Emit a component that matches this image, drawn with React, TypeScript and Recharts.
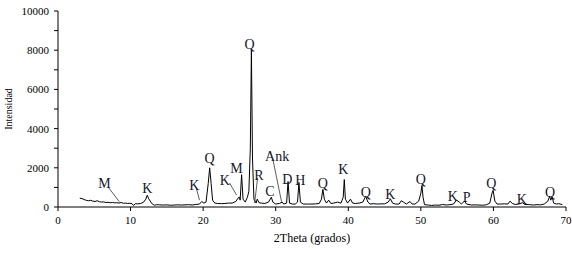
import React from "react";
import {
  LineChart,
  Line,
  XAxis,
  YAxis,
  ReferenceDot,
  ReferenceLine,
  Label,
} from "recharts";

const twoTheta = [
  3.0, 3.3, 3.6, 3.9, 4.2, 4.5, 4.8, 5.1, 5.4, 5.7, 6.0, 6.3, 6.6, 6.9, 7.2, 7.5, 7.8, 8.1, 8.4, 8.7,
  9.0, 9.3, 9.6, 9.9, 10.2, 10.4, 10.7, 11.0, 11.4, 11.8, 12.1, 12.3, 12.5, 12.8, 13.0, 13.3, 13.6,
  14.0, 14.5, 15.0, 15.5, 16.0, 16.5, 17.0, 17.5, 18.0, 18.5, 19.0, 19.5, 19.8, 20.1, 20.4, 20.7,
  20.9, 21.1, 21.3, 21.6, 22.0, 22.5, 23.0, 23.5, 24.0, 24.5, 24.8, 25.0, 25.1, 25.3, 25.5, 25.8,
  26.1, 26.3, 26.5, 26.65, 26.8, 27.0, 27.3, 27.45, 27.7, 28.0, 28.5, 29.0, 29.4, 29.6, 30.0, 30.5,
  30.9, 31.1, 31.5, 31.7, 31.9, 32.3, 32.7, 33.0, 33.2, 33.4, 33.8, 34.5, 35.0, 35.5, 36.0, 36.3,
  36.5, 36.7, 37.0, 37.3, 37.6, 38.0, 38.5, 39.0, 39.3, 39.45, 39.6, 39.9, 40.3, 40.6, 41.0, 41.5,
  42.0, 42.4, 42.7, 43.0, 43.5, 44.0, 44.5, 45.0, 45.5, 45.8, 46.1, 46.5, 47.0, 47.3, 47.6, 48.0,
  48.5, 48.8, 49.2, 49.7, 50.0, 50.15, 50.3, 50.5, 51.0, 51.5, 52.0, 52.5, 53.0, 53.5, 54.0, 54.5,
  54.9, 55.3, 55.6, 56.0, 56.3, 57.0, 57.5, 58.0, 58.5, 59.0, 59.5, 59.8, 59.95, 60.2, 60.5, 61.0,
  61.5, 62.0, 62.3, 62.6, 63.0, 63.5, 64.0, 64.3, 65.0, 65.5, 66.0, 66.5, 67.0, 67.5, 67.75, 67.9,
  68.1, 68.3, 68.7, 69.0, 69.5,
];
const intensity = [
  450, 430, 380, 340, 320, 340, 300, 280, 320, 270, 250, 260, 230, 240, 220, 230, 210, 220, 200, 230,
  190, 200, 180, 190, 170, 80, 170, 160, 180, 250, 400, 600, 420, 250, 150, 90, 120,
  110, 100, 110, 90, 100, 110, 100, 110, 120, 100, 130, 150, 280, 200, 250, 1200,
  2000, 1200, 350, 200, 180, 170, 180, 200, 200, 280, 450, 500, 350, 1650, 400, 250,
  500, 800, 3000, 8000, 2500, 400, 200, 400, 220, 200, 180, 250, 500, 250, 150, 180,
  250, 150, 200, 1300, 200, 150, 150, 250, 1250, 250, 150, 150, 150, 160, 180, 400,
  900, 400, 200, 350, 180, 200, 250, 200, 500, 1400, 400, 200, 400, 200, 180, 200,
  250, 550, 250, 150, 170, 150, 160, 160, 250, 420, 200, 150, 150, 320, 250, 150,
  280, 150, 150, 300, 700, 1100, 500, 120, 100, 80, 100, 90, 130, 100, 120, 150,
  350, 250, 150, 300, 150, 100, 110, 100, 90, 110, 200, 700, 850, 300, 150, 150,
  160, 150, 300, 180, 130, 150, 220, 130, 120, 100, 120, 110, 150, 300, 550, 350,
  500, 200, 150, 170, 120,
];

const xTicks = [0, 10, 20, 30, 40, 50, 60, 70];
const yTicks = [0, 1000, 2000, 3000, 4000, 5000, 6000, 7000, 8000, 9000, 10000];

// phase labels: text, label position, optional leader line end
const phaseText = ["M", "K", "K", "Q", "K", "M", "Q", "R", "C", "Ank", "D", "H", "Q", "K", "Q", "K", "Q", "K", "P", "Q", "K", "Q"];
const phaseX = [6.4, 12.3, 18.8, 20.9, 23.0, 24.6, 26.4, 27.7, 29.2, 30.2, 31.6, 33.4, 36.5, 39.3, 42.4, 45.8, 50.0, 54.4, 56.3, 59.7, 63.9, 67.8];
const phaseY = [1200, 950, 1080, 2500, 1330, 1950, 8300, 1630, 780, 2570, 1420, 1330, 1180, 1890, 760, 620, 1420, 520, 460, 1220, 360, 760];
const leaderFromX = [6.9, null, 19.05, null, 23.65, null, null, 27.5, null, 29.6, null, null, null, null, null, null, null, null, null, null, null, null];
const leaderFromY = [1020, null, 970, null, 1220, null, null, 1480, null, 2450, null, null, null, null, null, null, null, null, null, null, null, null];
const leaderToX = [8.45, null, 19.5, null, 24.6, null, null, 27.1, null, 30.8, null, null, null, null, null, null, null, null, null, null, null, null];
const leaderToY = [270, null, 350, null, 610, null, null, 200, null, 270, null, null, null, null, null, null, null, null, null, null, null, null];

const data = twoTheta.map((t, i) => ({ t, v: intensity[i] }));

const serif = "'Liberation Serif', 'Times New Roman', serif";

const PhaseText = (text: string) => (props: any) => (
  <text
    x={props.cx}
    y={props.cy}
    textAnchor="middle"
    dominantBaseline="central"
    fontFamily={serif}
    fontSize={14}
    fill="#14142e"
  >
    {text}
  </text>
);

export default function App() {
  return (
    <div style={{ position: "absolute", left: 0, top: 0, background: "#fff" }}>
      <LineChart
        width={572}
        height={253}
        data={data}
        margin={{ top: 11, right: 6, bottom: 0, left: 0 }}
      >
        <XAxis
          dataKey="t"
          type="number"
          domain={[0, 70]}
          ticks={xTicks}
          height={46}
          tickSize={4}
          tickMargin={5}
          stroke="#000"
          tick={{ fill: "#000", fontSize: 11, fontFamily: serif }}
          allowDataOverflow
        >
          <Label
            content={(p: any) => (
              <text
                x={p.viewBox.x + p.viewBox.width / 2}
                y={p.viewBox.y + 35}
                textAnchor="middle"
                fontFamily={serif}
                fontSize={12}
                fill="#000"
              >
                2Theta (grados)
              </text>
            )}
          />
        </XAxis>
        <YAxis
          type="number"
          domain={[0, 10000]}
          ticks={yTicks}
          width={58}
          tickSize={4}
          tickMargin={5}
          stroke="#000"
          interval={0}
          tickFormatter={(v: number) => (v % 2000 === 0 ? String(v) : "")}
          tick={{ fill: "#000", fontSize: 11, fontFamily: serif }}
        >
          <Label
            content={(p: any) => {
              const cx = 8;
              const cy = p.viewBox.y + p.viewBox.height / 2;
              return (
                <text
                  x={cx}
                  y={cy}
                  transform={`rotate(-90 ${cx} ${cy})`}
                  textAnchor="middle"
                  dominantBaseline="central"
                  fontFamily={serif}
                  fontSize={10}
                  fill="#000"
                >
                  Intensidad
                </text>
              );
            }}
          />
        </YAxis>
        <Line
          dataKey="v"
          type="linear"
          stroke="#000"
          strokeWidth={1}
          dot={false}
          isAnimationActive={false}
        />
        {phaseText.map((txt, i) =>
          leaderFromX[i] !== null ? (
            <ReferenceLine
              key={"l" + i}
              segment={[
                { x: leaderFromX[i] as number, y: leaderFromY[i] as number },
                { x: leaderToX[i] as number, y: leaderToY[i] as number },
              ]}
              stroke="#333"
              strokeWidth={0.8}
            />
          ) : null
        )}
        {phaseText.map((txt, i) => (
          <ReferenceDot
            key={"d" + i}
            x={phaseX[i]}
            y={phaseY[i]}
            r={0}
            shape={PhaseText(txt)}
          />
        ))}
      </LineChart>
    </div>
  );
}
